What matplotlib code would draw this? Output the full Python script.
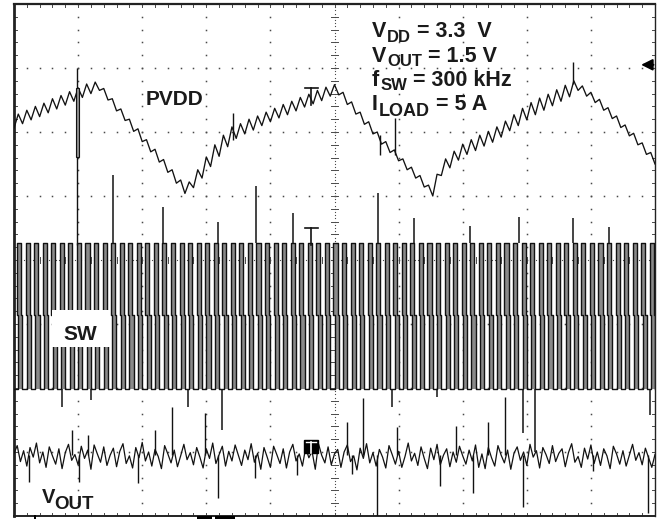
import numpy as np
import matplotlib
matplotlib.use('Agg')
import matplotlib.pyplot as plt
from matplotlib.patches import Rectangle

W, H = 659, 519
L, R, T, B = 14, 655, 4, 516  # screen area (pixels)

# ---------------- data (scope divisions: x 0..10, y -4..4) ----------------
pvdd = [2.06, 2.28, 2.13, 2.34, 2.19, 2.40, 2.24, 2.45, 2.30, 2.52,
        2.36, 2.57, 2.42, 2.63, 2.48, 2.69, 2.54, 2.75, 2.60, 2.78,
        2.65, 2.68, 2.50, 2.52, 2.33, 2.36, 2.18, 2.20, 2.01, 2.05,
        1.85, 1.88, 1.69, 1.73, 1.53, 1.57, 1.37, 1.41, 1.20, 1.25, 1.04,
        1.22, 1.13, 1.41, 1.28, 1.61, 1.46, 1.80, 1.62, 1.95, 1.77,
        2.08, 1.90, 2.13, 1.97, 2.20, 2.03, 2.25, 2.10, 2.31, 2.16,
        2.37, 2.22, 2.43, 2.27, 2.48, 2.33, 2.54, 2.39, 2.59, 2.44,
        2.65, 2.49, 2.70, 2.56, 2.74,
        2.58, 2.62, 2.43, 2.47, 2.28, 2.31, 2.12, 2.16, 1.97, 2.00,
        1.81, 1.85, 1.68, 1.72, 1.55, 1.58, 1.41, 1.45, 1.28, 1.32,
        1.14, 1.17, 1.00,
        1.34, 1.32, 1.58, 1.44, 1.70, 1.56, 1.81, 1.65, 1.88, 1.71,
        1.95, 1.78, 2.01, 1.84, 2.08, 1.92, 2.17, 2.02, 2.27, 2.10,
        2.37, 2.19, 2.46, 2.27, 2.53, 2.34, 2.59, 2.41, 2.66, 2.48,
        2.73, 2.55, 2.80,
        2.65, 2.72, 2.56, 2.62, 2.46, 2.51, 2.34, 2.38, 2.21, 2.25,
        2.07, 2.11, 1.94, 1.98, 1.80, 1.83, 1.65, 1.68, 1.50]

# PVDD spikes: x, y_from, y_to
pvdd_spike_x = [0.983, 3.417, 5.710, 5.944, 8.720]
pvdd_spike_y0 = [3.00, 1.875, 1.95, 1.64, 2.75]
pvdd_spike_y1 = [0.23, 2.297, 1.64, 2.22, 3.09]

vout = [-3.02, -2.90, -3.15, -2.98, -3.22, -2.93, -3.08, -2.86, -3.17, -3.00,
        -3.24, -2.92, -3.06, -3.19, -2.95, -3.26, -3.01, -2.88, -3.13, -3.04,
        -3.20, -2.91, -3.10, -2.97, -3.27, -2.89, -3.03, -3.16, -2.92, -3.21,
        -3.05, -2.94, -3.23, -2.99, -2.87, -3.18, -3.06, -3.25, -2.93, -3.09,
        -2.85, -3.14, -3.00, -3.22, -2.96, -3.07, -3.26, -2.90, -3.03, -3.17,
        -2.97, -3.23, -3.06, -2.88, -3.12, -3.01, -3.20, -2.93, -3.08, -3.25,
        -2.95, -3.10, -2.86, -3.18, -3.04, -2.91, -3.22, -2.99, -3.14, -2.89,
        -3.05, -3.21, -2.97, -3.12, -2.87, -3.16, -3.02, -3.27, -2.93, -3.08,
        -3.24, -2.91, -3.04, -3.18, -2.95, -3.25, -3.00, -2.88, -3.14, -3.03,
        -3.22, -2.93, -3.09, -2.99, -3.27, -2.87, -3.05, -3.17, -2.92, -3.20,
        -3.03, -2.96, -3.24, -3.00, -2.89, -3.15, -3.06, -3.28, -2.94, -3.10,
        -2.87, -3.17, -3.01, -3.22, -2.96, -3.08, -3.25, -2.90, -3.04, -3.19,
        -2.99, -3.24, -3.07, -2.86, -3.14, -3.02, -3.21, -2.92, -3.10, -3.26,
        -2.94, -3.12, -2.88, -3.20, -3.05, -2.95, -3.23, -3.00, -3.16, -2.91,
        -3.06, -3.19, -2.97, -3.14, -2.89, -3.24, -3.03, -3.26, -2.93, -3.09,
        -3.22, -2.90, -3.05, -3.17, -2.97, -3.27, -3.02, -2.92, -3.13, -3.00,
        -3.21, -2.88, -3.08, -2.98, -3.25, -2.93, -3.04, -3.18, -2.90, -3.15,
        -3.02, -2.95, -3.23, -3.01, -2.87, -3.16, -3.07, -3.24, -2.94, -3.11,
        -2.89, -3.18, -3.00, -3.21, -2.95, -3.06, -3.26, -2.91, -3.03, -3.19,
        -2.98, -3.22, -3.05, -2.88, -3.13, -3.01, -3.20, -2.94, -3.09, -3.24,
        -3.04]

vout_spike_x = [0.905, 1.154, 2.200, 2.465, 2.980, 5.195, 5.445, 5.975, 6.895, 7.395, 7.660,
                0.234, 1.014, 1.934, 3.183, 3.760, 4.415, 5.273, 5.663, 6.646, 7.160, 7.940, 9.030, 9.890]
vout_spike_y = [-2.66, -2.73, -2.66, -2.30, -2.39, -2.53, -2.16, -2.61, -2.59, -2.53, -2.14,
                -3.47, -3.47, -3.48, -3.72, -3.41, -3.36, -3.34, -4.00, -3.53, -3.64, -3.86, -3.30, -3.95]

sw_rise = [0.047, 0.180, 0.314, 0.447, 0.581, 0.714, 0.847, 0.981, 1.114, 1.248,
           1.381, 1.514, 1.648, 1.781, 1.915, 2.048, 2.181, 2.315, 2.448, 2.582,
           2.715, 2.848, 2.982, 3.115, 3.249, 3.382, 3.515, 3.649, 3.782, 3.916,
           4.049, 4.182, 4.316, 4.449, 4.583, 4.716, 4.849, 4.983, 5.116, 5.250,
           5.383, 5.516, 5.650, 5.783, 5.917, 6.050, 6.183, 6.317, 6.450, 6.584,
           6.717, 6.850, 6.984, 7.117, 7.251, 7.384, 7.517, 7.651, 7.784, 7.918,
           8.051, 8.184, 8.318, 8.451, 8.585, 8.718, 8.851, 8.985, 9.118, 9.252,
           9.385, 9.518, 9.652, 9.785, 9.919]
sw_high, sw_mid, sw_low = 0.27, -0.86, -2.02
sw_width = 0.064

sw_top_spike_x = [1.537, 2.325, 3.180, 3.775, 4.350, 5.680, 6.240, 7.110, 7.880, 8.720, 9.280]
sw_top_spike_y = [1.33, 0.83, 0.59, 1.16, 0.73, 1.05, 0.66, 0.53, 0.67, 0.66, 0.52]
sw_bot_spike_x = [0.749, 1.201, 2.715, 3.245, 5.897, 6.600, 7.940, 8.128, 9.922]
sw_bot_spike_y = [-2.30, -2.19, -2.30, -2.66, -2.30, -2.14, -2.70, -3.00, -2.42]

# annotation block: (main, subscript, rest)
info_lines = [('V', 'DD', '= 3.3  V'),
              ('V', 'OUT', '= 1.5 V'),
              ('f', 'SW', '= 300 kHz'),
              ('I', 'LOAD', '= 5 A')]

INK = '#121212'
GRID = '#4a4a4a'

fig = plt.figure(figsize=(W / 100, H / 100), dpi=100)
fig.patch.set_facecolor('white')
ax = fig.add_axes([L / W, (H - B) / H, (R - L) / W, (B - T) / H])
ax.set_xlim(0, 10)
ax.set_ylim(-4, 4)
ax.set_xticks([])
ax.set_yticks([])
for side, lw in (('left', 2.0), ('top', 1.6), ('right', 1.0), ('bottom', 1.4)):
    ax.spines[side].set_linewidth(lw)
    ax.spines[side].set_color('#222')

# ---------------- graticule ----------------
dots_y = np.arange(-4, 4.001, 0.2)
dots_x = np.arange(0, 10.001, 0.2)
for gx in range(1, 10):
    if gx == 5:
        continue
    ax.plot(np.full_like(dots_y, gx), dots_y, ls='none', marker='s', ms=1.1, mew=0, color=GRID, zorder=1)
for gy in range(-3, 4):
    if gy == 0:
        continue
    ax.plot(dots_x, np.full_like(dots_x, gy), ls='none', marker='s', ms=1.1, mew=0, color=GRID, zorder=1)
dense_y = np.arange(-4, 4.001, 0.05)
dense_x = np.arange(0, 10.001, 0.05)
ax.plot(np.full_like(dense_y, 5), dense_y, ls='none', marker='s', ms=0.8, mew=0, color=GRID, zorder=1)
ax.plot(dense_x, np.zeros_like(dense_x), ls='none', marker='s', ms=0.8, mew=0, color=GRID, zorder=1)
for v in dots_y:
    ax.plot([4.95, 5.05], [v, v], color=GRID, lw=0.7, zorder=1)
    ax.plot([0, 0.045], [v, v], color=GRID, lw=0.7, zorder=1)
    ax.plot([9.955, 10], [v, v], color=GRID, lw=0.7, zorder=1)
for u in dots_x:
    ax.plot([u, u], [-0.05, 0.05], color=GRID, lw=0.7, zorder=1)
    ax.plot([u, u], [3.95, 4], color=GRID, lw=0.7, zorder=1)
    ax.plot([u, u], [-4, -3.95], color=GRID, lw=0.7, zorder=1)

# ---------------- PVDD ----------------
t_p = np.linspace(0, 10, len(pvdd))
ax.plot(t_p, pvdd, color=INK, lw=0.95, zorder=3)
ax.vlines(pvdd_spike_x, pvdd_spike_y0, pvdd_spike_y1, color=INK, lw=1.0, zorder=3)
ax.add_patch(Rectangle((0.967, 1.61), 0.05, 1.08, facecolor='#8f8f8f', edgecolor=INK, lw=0.8, zorder=3))

# ---------------- SW ----------------
d = 0.02
xs, ys = [0.0], [sw_low]
for r in sw_rise:
    f = r + sw_width
    px = [r + d, r + d, r, r, f, f, f + d, f + d]
    py = [sw_low, sw_mid, sw_mid, sw_high, sw_high, sw_mid, sw_mid, sw_low]
    ax.fill(px, py, color='#8a8a8a', lw=0, zorder=2)
    xs += px
    ys += py
xs.append(10.0)
ys.append(sw_low)
ax.plot(xs, ys, color=INK, lw=1.0, zorder=3)
ax.vlines(sw_top_spike_x, sw_high, sw_top_spike_y, color=INK, lw=1.1, zorder=3)
ax.vlines(sw_bot_spike_x, sw_low, sw_bot_spike_y, color=INK, lw=1.1, zorder=3)

# ---------------- VOUT ----------------
t_v = np.linspace(0, 10, len(vout))
ax.plot(t_v, vout, color=INK, lw=0.9, zorder=3)
ax.vlines(vout_spike_x, -3.05, vout_spike_y, color=INK, lw=1.0, zorder=3)

# ---------------- markers ----------------
ax.plot([4.54, 4.74], [2.69, 2.69], color=INK, lw=1.2, zorder=4)
ax.plot([4.64, 4.64], [2.69, 2.42], color=INK, lw=1.2, zorder=4)
ax.plot([4.54, 4.74], [0.50, 0.50], color=INK, lw=1.2, zorder=4)
ax.plot([4.64, 4.64], [0.50, 0.23], color=INK, lw=1.2, zorder=4)
ax.add_patch(Rectangle((4.52, -3.02), 0.23, 0.21, facecolor='black', edgecolor='black', zorder=4))
ax.plot([4.56, 4.71], [-2.85, -2.85], color='white', lw=1.0, zorder=5)
ax.plot([4.635, 4.635], [-2.85, -3.02], color='white', lw=1.2, zorder=5)
ax.annotate('', xy=(9.74, 3.05), xytext=(10.02, 3.05),
            arrowprops=dict(arrowstyle='-|>', color='black', lw=1.4, mutation_scale=17),
            annotation_clip=False, zorder=6)

# ---------------- text overlay (pixel coordinates) ----------------
ax2 = fig.add_axes([0, 0, 1, 1])
ax2.set_xlim(0, W)
ax2.set_ylim(H, 0)
ax2.axis('off')
ax2.patch.set_alpha(0)

FAM = ['Liberation Sans', 'DejaVu Sans']
renderer = fig.canvas.get_renderer()


def txt(x, y, s, size):
    return ax2.text(x, y, s, fontsize=size, fontweight='bold', family=FAM,
                    va='baseline', ha='left', color='#1a1a1a')


def width(s, size):
    t = txt(0, 0, s, size)
    w = t.get_window_extent(renderer=renderer).width
    t.remove()
    return w


MAIN = 15.5
SUBS = [12, 12, 12, 13]
bases = [37, 62, 86, 110]
sub_dy = [5, 4.5, 4.5, 6]
space = width('a a', MAIN) - width('aa', MAIN)
for (m, s, rest), base, dy, ssz in zip(info_lines, bases, sub_dy, SUBS):
    x = 372
    txt(x, base, m, MAIN)
    x += width(m, MAIN) + 1
    txt(x, base + dy, s, ssz)
    x += width(s, ssz) + space
    txt(x, base, rest, MAIN)

txt(146, 105, 'PVDD', 15)
ax2.add_patch(Rectangle((52, 310), 58, 37, facecolor='white', edgecolor='none'))
txt(63, 340, 'SW', 15)
txt(42, 503, 'V', 14.5)
txt(54, 509, 'OUT', 13.5)

ax2.add_patch(Rectangle((197, 516), 15, 3, facecolor='black', edgecolor='none'))
ax2.add_patch(Rectangle((215, 516), 20, 3, facecolor='black', edgecolor='none'))
ax2.add_patch(Rectangle((34, 515), 1.5, 4, facecolor='black', edgecolor='none'))

fig.savefig('out.png', dpi=100, facecolor='white')
